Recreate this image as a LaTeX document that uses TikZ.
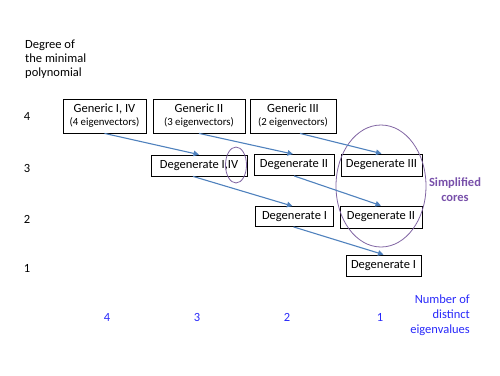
\documentclass[tikz,border=0pt]{standalone}
\usepackage{fontspec}
\setmainfont{Carlito}
\usetikzlibrary{arrows.meta,shapes.geometric}
\definecolor{arrblue}{RGB}{79,129,189}
\definecolor{elpurple}{RGB}{128,100,162}
\definecolor{corepurple}{RGB}{120,80,170}
\definecolor{labblue}{RGB}{40,40,250}
\begin{document}
\begin{tikzpicture}[x=1pt,y=-1pt,
  box/.style={draw=black,line width=0.8pt,inner sep=0pt,align=center,font=\fontsize{12.5}{14}\selectfont},
  arr/.style={draw=arrblue,line width=1.1pt,-{Triangle[length=5.5pt,width=5.5pt]}},
  ring/.style={draw=elpurple,line width=0.8pt,ellipse,inner sep=0pt},
  lab/.style={inner sep=0pt,font=\fontsize{12.5}{14}\selectfont},
  blab/.style={lab,text=labblue}]
\useasboundingbox (0,0) rectangle (500,375);

% boxes
\node[box,minimum width=83pt,minimum height=34pt] (gen1) at (104.5,116)
  {Generic I, IV\\[-1pt]{\fontsize{10.8}{12}\selectfont (4 eigenvectors)}};
\node[box,minimum width=92pt,minimum height=34pt] (gen2) at (199,116)
  {Generic II\\[-1pt]{\fontsize{10.8}{12}\selectfont (3 eigenvectors)}};
\node[box,minimum width=86pt,minimum height=34pt] (gen3) at (293,116)
  {Generic III\\[-1pt]{\fontsize{10.8}{12}\selectfont (2 eigenvectors)}};
\node[box,minimum width=96pt,minimum height=21pt] (deg14) at (199,165.5) {Degenerate I,IV};
\node[box,minimum width=80pt,minimum height=21pt] (deg2a) at (294,165) {Degenerate II};
\node[box,minimum width=81pt,minimum height=22pt] (deg3) at (381.5,165) {Degenerate III};
\node[box,minimum width=78pt,minimum height=20pt] (deg1a) at (294.5,216.5) {Degenerate I};
\node[box,minimum width=82pt,minimum height=22pt] (deg2b) at (381,217) {Degenerate II};
\node[box,minimum width=75pt,minimum height=21pt] (deg1b) at (383.5,265.5) {Degenerate I};

% ellipses
\node[ring,minimum width=90pt,minimum height=122pt] (core) at (381,186) {};
\node[ring,minimum width=21pt,minimum height=36pt] (small) at (236,165) {};

% arrows
\draw[arr] (gen1.south) -- (deg14.north);
\draw[arr] (gen2.south) -- ([xshift=-1pt]deg2a.north);
\draw[arr] ([xshift=7pt]gen3.south) -- (deg3.north);
\draw[arr] ([xshift=-6pt]deg14.south) -- ([xshift=-2pt]deg1a.north);
\draw[arr] (deg2a.south) -- (deg2b.north);
\draw[arr] ([xshift=-1pt]deg1a.south) -- (deg1b.north);

% labels
\node[lab,anchor=west,align=left] (ylab) at (25,59) {Degree of\\the minimal\\polynomial};
\node[lab] (r4) at (27,116) {4};
\node[lab] (r3) at (27,168) {3};
\node[lab] (r2) at (27,219) {2};
\node[lab] (r1) at (27,268) {1};
\node[blab] (c4) at (107,317) {4};
\node[blab] (c3) at (197,317) {3};
\node[blab] (c2) at (287,317) {2};
\node[blab] (c1) at (380,317) {1};
\node[blab,anchor=east,align=right,font=\fontsize{12.5}{15}\selectfont] (xlab) at (470,315)
  {Number of\\distinct\\eigenvalues};
\node[lab,align=center,text=corepurple,font=\fontsize{12.5}{15}\selectfont\bfseries] (cores) at (455,190)
  {Simplified\\cores};
\end{tikzpicture}
\end{document}
